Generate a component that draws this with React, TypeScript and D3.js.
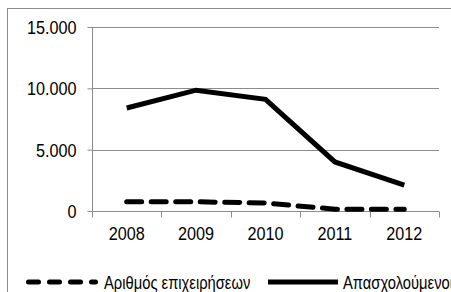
import { useEffect, useRef } from "react";
import * as d3 from "d3";

const years = ["2008", "2009", "2010", "2011", "2012"];
const businesses = [750, 750, 650, 150, 150];
const employees = [8400, 9850, 9100, 4000, 2100];
const yTicks = [0, 5000, 10000, 15000];
const seriesNames = ["Αριθμός επιχειρήσεων", "Απασχολούμενοι"];

const font = "'Liberation Sans', Arial, sans-serif";
const squeeze = 0.9;
const legendSqueeze = 0.82;

export default function App() {
  const ref = useRef<SVGSVGElement>(null);

  useEffect(() => {
    const svg = d3.select(ref.current);
    svg.selectAll("*").remove();
    const width = 451, height = 292;
    const margin = { left: 92, right: 12, top: 27, bottom: 81 };
    const w = width - margin.left - margin.right;
    const h = height - margin.top - margin.bottom;

    svg.append("rect").attr("x", 7.5).attr("y", 8.5).attr("width", 460).attr("height", 300)
      .attr("fill", "white").attr("stroke", "#8c8c8c").attr("stroke-width", 1);

    const x = d3.scaleBand().domain(years).range([0, w]);
    const y = d3.scaleLinear().domain([0, 15000]).range([h, 0]);

    const g = svg.append("g").attr("transform", `translate(${margin.left},${margin.top})`);

    g.selectAll(".grid").data(yTicks.filter(d => d > 0)).enter().append("line")
      .attr("x1", 0).attr("x2", w)
      .attr("y1", d => Math.round(y(d)) + 0.5).attr("y2", d => Math.round(y(d)) + 0.5)
      .attr("stroke", "#8c8c8c");

    const yAxis = d3.axisLeft(y).tickValues(yTicks).tickSize(5)
      .tickFormat(d => d3.format(",")(d as number).replace(/,/g, "."));
    const ya = g.append("g").attr("transform", "translate(0.5,0)").call(yAxis);
    ya.selectAll("path, line").attr("stroke", "#8c8c8c");
    ya.select(".domain").attr("d", `M0,${h}V0`);
    ya.selectAll("text").attr("font-family", font).attr("font-size", 18).attr("fill", "#000")
      .attr("transform", `scale(${squeeze},1)`).attr("x", -16 / squeeze).attr("dy", "0.36em");

    const xAxis = d3.axisBottom(x).tickSize(0);
    const xa = g.append("g").attr("transform", `translate(0,${h + 0.5})`).call(xAxis);
    xa.select(".domain").attr("stroke", "#8c8c8c").attr("d", `M0,0H${w}`);
    xa.selectAll("text").attr("font-family", font).attr("font-size", 18).attr("fill", "#000")
      .attr("transform", `scale(${squeeze},1)`).attr("y", 29).attr("dy", 0);
    xa.selectAll(".xt").data(d3.range(years.length + 1)).enter().append("line")
      .attr("x1", i => Math.round(i * x.step()) + 0.5).attr("x2", i => Math.round(i * x.step()) + 0.5)
      .attr("y1", 0).attr("y2", 6).attr("stroke", "#8c8c8c");

    const line = d3.line<number>()
      .x((_, i) => (x(years[i]) as number) + x.bandwidth() / 2)
      .y(d => y(d));

    g.append("path").datum(businesses).attr("d", line).attr("fill", "none")
      .attr("stroke", "#000").attr("stroke-width", 5).attr("stroke-linecap", "round")
      .attr("stroke-dasharray", "15,9.5");
    g.append("path").datum(employees).attr("d", line).attr("fill", "none")
      .attr("stroke", "#000").attr("stroke-width", 5).attr("stroke-linejoin", "miter");

    const leg = svg.append("g").attr("transform", "translate(0,282)");
    leg.append("line").attr("x1", 28.5).attr("x2", 95.5).attr("y1", 0).attr("y2", 0)
      .attr("stroke", "#000").attr("stroke-width", 5).attr("stroke-linecap", "round")
      .attr("stroke-dasharray", "10,11");
    leg.append("text").attr("transform", `translate(104,6.5) scale(${legendSqueeze},1)`).text(seriesNames[0])
      .attr("font-family", font).attr("font-size", 18);
    leg.append("line").attr("x1", 268).attr("x2", 338).attr("y1", 0).attr("y2", 0)
      .attr("stroke", "#000").attr("stroke-width", 5);
    leg.append("text").attr("transform", `translate(343,6.5) scale(${legendSqueeze},1)`).text(seriesNames[1])
      .attr("font-family", font).attr("font-size", 18);
  }, []);

  return (
    <svg ref={ref} width={451} height={292}
      style={{ position: "absolute", left: 0, top: 0, display: "block", background: "white" }} />
  );
}
